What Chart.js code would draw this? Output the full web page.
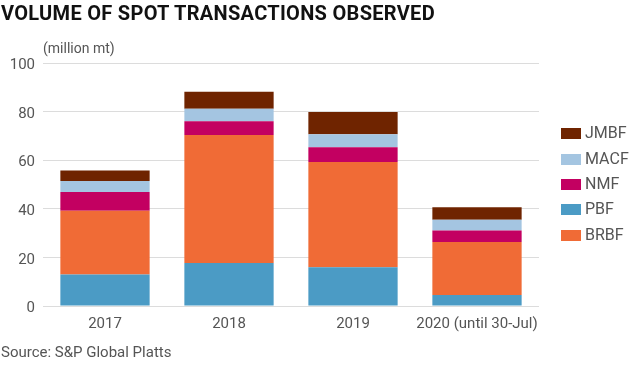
<!DOCTYPE html>
<html>
<head>
<meta charset="utf-8">
<script src="https://cdn.jsdelivr.net/npm/chart.js@4"></script>
<style>
  html, body { margin: 0; padding: 0; background: #fff; }
  #wrap { position: relative; width: 630px; height: 365px; overflow: hidden; font-family: Roboto, "Noto Sans", sans-serif; }
  #chart { position: absolute; left: 0; top: 0; }
  .title { position: absolute; left: 1px; top: 1px; font-size: 20px; letter-spacing: 0.3px; font-weight: bold; color: #111; white-space: nowrap; }
  .unit { position: absolute; left: 43px; top: 40px; font-size: 14px; color: #555; }
  .source { position: absolute; left: 1px; top: 343px; font-size: 15px; color: #555; }
  #legend { position: absolute; left: 561px; top: 0; }
  .item { position: absolute; left: 0; white-space: nowrap; font-size: 16px; color: #555; line-height: 18px; }
  .item span { display: inline-block; width: 20px; height: 11px; margin-right: 4px; vertical-align: -1px; }
</style>
</head>
<body>
<div id="wrap">
  <canvas id="chart" width="630" height="365"></canvas>
  <div class="title" id="title">VOLUME OF SPOT TRANSACTIONS OBSERVED</div>
  <div class="unit">(million mt)</div>
  <div class="source">Source: S&amp;P Global Platts</div>
  <div id="legend"></div>
</div>
<script>
    "use strict";

    var years = ["2017", "2018", "2019", "2020 (until 30-Jul)"];
    var brbf = [26.2, 52.7, 43.4, 21.8];
    var pbf  = [13.0, 17.7, 15.9, 4.5];
    var nmf  = [7.7, 5.6, 6.0, 4.8];
    var macf = [4.5, 5.2, 5.4, 4.4];
    var jmbf = [4.4, 7.0, 9.1, 5.1];
    var yTicks = [0, 20, 40, 60, 80, 100];

    // stacking order bottom -> top
    var series = [
        { label: "PBF",  color: "#4b9bc5", data: pbf },
        { label: "BRBF", color: "#f06b36", data: brbf },
        { label: "NMF",  color: "#c30061", data: nmf },
        { label: "MACF", color: "#a4c5e1", data: macf },
        { label: "JMBF", color: "#6f2400", data: jmbf }
    ];
    // legend order as in the original
    var legendOrder = ["JMBF", "MACF", "NMF", "PBF", "BRBF"];

    var chart_data = [];
    for (var i = 0; i < series.length; i++) {
        chart_data.push({
            label: series[i].label,
            backgroundColor: series[i].color,
            borderWidth: 0,
            barPercentage: 0.72,
            categoryPercentage: 1,
            data: series[i].data
        });
    }

    var tickFont = { family: "Roboto", size: 15 };

    new Chart(document.getElementById("chart").getContext("2d"), {
        type: "bar",
        data: { labels: years, datasets: chart_data },
        options: {
            responsive: false,
            animation: false,
            layout: { padding: { top: 63, right: 91, left: 0, bottom: 0 } },
            plugins: { legend: { display: false }, tooltip: { enabled: false } },
            scales: {
                x: {
                    stacked: true,
                    grid: { display: false },
                    border: { display: false },
                    ticks: { color: "#555", font: tickFont, padding: 1, autoSkip: false, maxRotation: 0, minRotation: 0 },
                    afterFit: function (scale) { scale.height = 59; }
                },
                y: {
                    stacked: true,
                    min: 0,
                    max: 100,
                    afterBuildTicks: function (scale) {
                        scale.ticks = yTicks.map(function (v) { return { value: v }; });
                    },
                    grid: { color: "#dcdcdc", lineWidth: 1, drawTicks: false },
                    border: { display: false },
                    ticks: { color: "#555", font: tickFont, padding: 8, labelOffset: 2.5 },
                    afterFit: function (scale) { scale.width = 43; }
                }
            }
        }
    });

    var legendY = [124, 150, 175, 200, 226];
    var legend = document.getElementById("legend");
    for (var j = 0; j < legendOrder.length; j++) {
        var s = series.filter(function (d) { return d.label === legendOrder[j]; })[0];
        var el = document.createElement("div");
        el.className = "item";
        el.style.top = legendY[j] + "px";
        el.innerHTML = '<span style="background:' + s.color + '"></span>' + s.label;
        legend.appendChild(el);
    }
</script>
</body>
</html>
